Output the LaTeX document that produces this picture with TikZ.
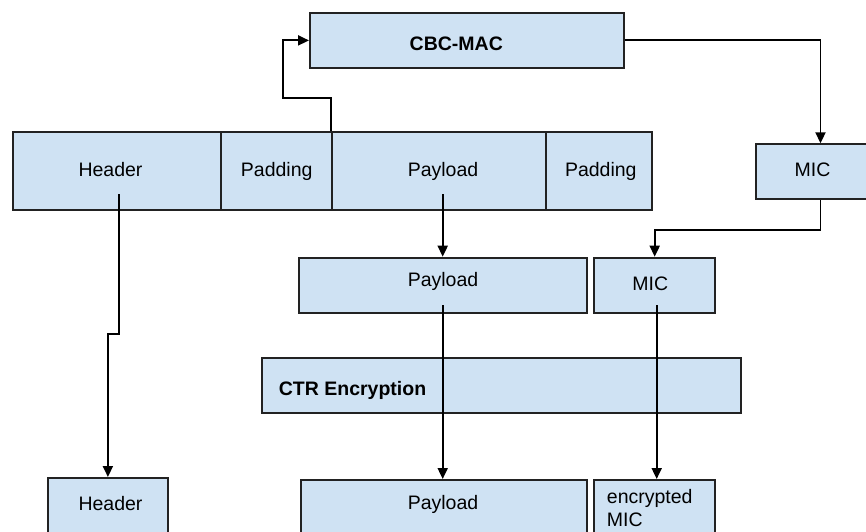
\documentclass[tikz,border=0pt]{standalone}
\usepackage{fontspec}
\setmainfont{Liberation Sans}
\usetikzlibrary{arrows.meta}
\definecolor{cellfill}{HTML}{CFE2F3}
\definecolor{cellline}{HTML}{222222}
\begin{document}
\begin{tikzpicture}[x=1pt,y=-1pt,
  cell/.style={draw=cellline, fill=cellfill, line width=1.8pt, inner sep=0pt, anchor=north west},
  lbl/.style={font=\fontsize{19.5}{23.4}\selectfont, inner sep=0pt, anchor=base},
  boldlbl/.style={lbl, font=\fontsize{19.5}{23.4}\selectfont\bfseries},
  conn/.style={draw=black, line width=1.9pt, -{Triangle[length=11pt,width=10pt]}}]
\useasboundingbox (0,0) rectangle (866,531);
\clip (0,0) rectangle (866,531);

% blocks
\node[cell, minimum width=313.7, minimum height=55] (cbc)  at (309,12) {};
\node[cell, minimum width=208.3, minimum height=78] (hdr)  at (11.7,131) {};
\node[cell, minimum width=111,   minimum height=78] (pad1) at (220,131) {};
\node[cell, minimum width=213.7, minimum height=78] (pl)   at (331,131) {};
\node[cell, minimum width=106.6, minimum height=78] (pad2) at (544.7,131) {};
\node[cell, minimum width=120,   minimum height=55] (mic1) at (755.3,143.3) {};
\node[cell, minimum width=288.3, minimum height=55] (pl2)  at (298,256.7) {};
\node[cell, minimum width=121,   minimum height=55] (mic2) at (593.3,256.7) {};
\node[cell, minimum width=479,   minimum height=55] (ctr)  at (261,357.3) {};
\node[cell, minimum width=120.6, minimum height=80] (hdr2) at (46.7,477) {};
\node[cell, minimum width=286.3, minimum height=80] (pl3)  at (300,479) {};
\node[cell, minimum width=121,   minimum height=80] (mic3) at (593.3,479) {};

% labels
\node[boldlbl] (tcbc) at (456.3,50) {CBC-MAC};
\node[lbl] (thdr)  at (110.5,176.7) {Header};
\node[lbl] (tpad1) at (276.7,176.7) {Padding};
\node[lbl] (tpl)   at (443,176.7) {Payload};
\node[lbl] (tpad2) at (600.8,176.7) {Padding};
\node[lbl] (tmic1) at (812.5,176.7) {MIC};
\node[lbl] (tpl2)  at (443,286.7) {Payload};
\node[lbl] (tmic2) at (650.3,290) {MIC};
\node[boldlbl, anchor=base west] (tctr) at (278.7,395) {CTR Encryption};
\node[lbl] (thdr2) at (110.5,510) {Header};
\node[lbl] (tpl3)  at (443,509.3) {Payload};
\node[lbl, anchor=base west, align=left] (tmic3) at (606.7,526.7) {encrypted\\MIC};

% connectors
\coordinate (h0) at (119.3,194);
\coordinate (p0) at (442.7,194);
\coordinate (p1) at (442.7,305);
\coordinate (m1) at (656.7,305);

\draw[conn] (pl.north west) -- ++(0,-33) -- ++(-48.3,0) |- (cbc.west);
\draw[conn] (cbc.east) -| ([xshift=4.3]mic1.north);
\draw[conn] ([xshift=4.3]mic1.south) -- ++(0,30) -| (mic2.north);
\draw[conn] (h0) -- ++(0,140) -| (hdr2.north);
\draw[conn] (p0) -- (pl2.north -| p0);
\draw[conn] (p1) -- (pl3.north -| p1);
\draw[conn] (m1) -- (mic3.north -| m1);
\end{tikzpicture}
\end{document}
